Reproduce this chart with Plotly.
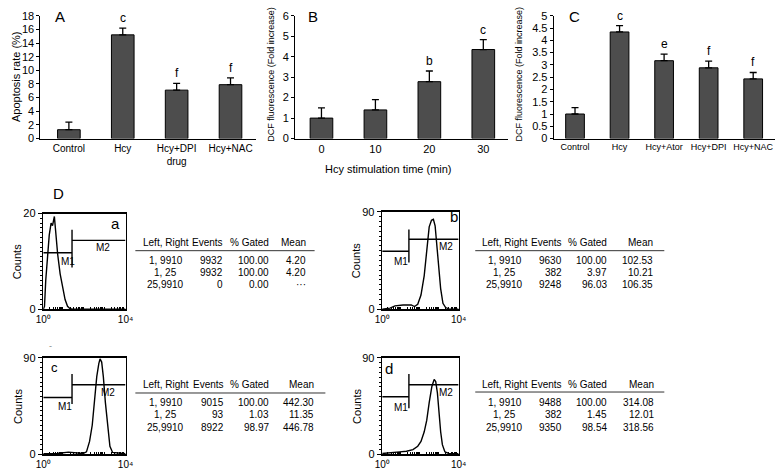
import plotly.graph_objects as go

W, H = 784, 476
def fx(p): return p / W
def fy(p): return 1 - p / H

FONT = "Liberation Sans, Arial, sans-serif"

# ---------------- data: bar panels ----------------
a_cats = ["Control", "Hcy", "Hcy+DPI<br>drug", "Hcy+NAC"]
a_vals = [1.3, 15.2, 7.1, 7.9]
a_err = [1.1, 1.0, 1.0, 1.0]
a_sig = ["", "c", "f", "f"]

b_cats = ["0", "10", "20", "30"]
b_vals = [1.0, 1.4, 2.78, 4.35]
b_err = [0.5, 0.5, 0.52, 0.48]
b_sig = ["", "", "b", "c"]

c_cats = ["Control", "Hcy", "Hcy+Ator", "Hcy+DPI", "Hcy+NAC"]
c_vals = [1.0, 4.34, 3.17, 2.88, 2.43]
c_err = [0.26, 0.26, 0.27, 0.27, 0.26]
c_sig = ["", "c", "e", "f", "f"]

# ---------------- data: flow cytometry histograms (log10 fluorescence, counts) ----------------
ha_log = [0, 0.06, 0.12, 0.19, 0.29, 0.38, 0.45, 0.54, 0.59, 0.70, 0.82, 0.95, 1.06, 1.18, 1.30, 1.43, 2.5, 4.0]
ha_cnt = [0, 0.6, 6, 10, 15.5, 18, 17.5, 19.4, 16.9, 11.5, 7.4, 4.1, 2.0, 0.6, 0.1, 0, 0, 0]

hb_log = [0, 0.41, 0.67, 1.09, 1.52, 1.69, 1.86, 2.03, 2.2, 2.33, 2.46, 2.58, 2.68, 2.77, 2.85, 2.94, 3.06, 3.18, 3.32, 3.49, 4.0]
hb_cnt = [0, 0.9, 3.0, 3.9, 3.9, 2.4, 4.5, 13, 31, 55, 76, 82, 83, 77, 61, 40, 19, 5.4, 1.5, 0.3, 0]

hc_log = [0, 0.67, 1.22, 1.46, 1.94, 2.1, 2.25, 2.38, 2.49, 2.6, 2.7, 2.76, 2.84, 2.92, 3.02, 3.13, 3.24, 3.37, 3.68, 4.0]
hc_cnt = [0.6, 0.9, 2.1, 1.5, 0.9, 2.4, 12.1, 27.2, 51.4, 72.5, 84.6, 89.1, 86.1, 72.5, 48.3, 24.2, 7.6, 1.8, 0.9, 0.6]

hd_log = [0, 0.58, 0.92, 1.27, 1.61, 1.86, 2.03, 2.2, 2.33, 2.46, 2.6, 2.72, 2.8, 2.89, 2.97, 3.06, 3.15, 3.28, 3.49, 4.0]
hd_cnt = [0.9, 1.5, 2.4, 3.0, 4.5, 7.6, 12.1, 21.1, 31.7, 48.3, 63.4, 70, 68, 57.4, 39.3, 21.1, 9.1, 2.4, 0.9, 0.6]

gate_m1 = [1, 25]
gate_m2 = [25, 9910]

# ---------------- data: statistics tables ----------------
tbl_head = ["Left, Right", "Events", "% Gated", "Mean"]
tbl_gates = ["1, 9910", "1, 25", "25,9910"]
ta_events = ["9932", "9932", "0"]
ta_gated = ["100.00", "100.00", "0.00"]
ta_mean = ["4.20", "4.20", "···"]
tb_events = ["9630", "382", "9248"]
tb_gated = ["100.00", "3.97", "96.03"]
tb_mean = ["102.53", "10.21", "106.35"]
tc_events = ["9015", "93", "8922"]
tc_gated = ["100.00", "1.03", "98.97"]
tc_mean = ["442.30", "11.35", "446.78"]
td_events = ["9488", "382", "9350"]
td_gated = ["100.00", "1.45", "98.54"]
td_mean = ["314.08", "12.01", "318.56"]

fig = go.Figure()
annotations = []
shapes = []
layout_axes = {}

def ann(text, x, y, size=11, xanchor="center", yanchor="middle", angle=0, color="black"):
    annotations.append(dict(text=text, x=fx(x), y=fy(y), xref="paper", yref="paper",
                            showarrow=False, xanchor=xanchor, yanchor=yanchor, textangle=angle,
                            font=dict(size=size, family=FONT, color=color)))

# ---------------- bar panels ----------------
bar_panels = [
    dict(i=1, cats=a_cats, vals=a_vals, err=a_err, sig=a_sig, xd=(33, 253), rng=(-0.53, 3.47), ymax=18, dtick=2, fs=10),
    dict(i=2, cats=b_cats, vals=b_vals, err=b_err, sig=b_sig, xd=(293, 510), rng=(-0.49, 3.45), ymax=6, dtick=1, fs=11),
    dict(i=3, cats=c_cats, vals=c_vals, err=c_err, sig=c_sig, xd=(557, 783), rng=(-0.48, 4.49), ymax=5, dtick=0.5, fs=9),
]
for p in bar_panels:
    i = p["i"]
    xa, ya = f"x{i}", f"y{i}"
    fig.add_trace(go.Bar(
        x=p["cats"], y=p["vals"], width=0.42, xaxis=xa, yaxis=ya,
        marker=dict(color="#4d4d4d", line=dict(color="black", width=1)),
        error_y=dict(type="data", symmetric=False, array=p["err"], arrayminus=[0] * len(p["err"]),
                     color="black", thickness=1.3, width=3.5),
        showlegend=False, hoverinfo="skip"))
    layout_axes[f"xaxis{i}"] = dict(domain=[fx(p["xd"][0]), fx(p["xd"][1])], anchor=ya, type="category",
                                   range=list(p["rng"]), showline=True, linecolor="black", linewidth=1,
                                   ticks="", showgrid=False, zeroline=False, tickangle=0,
                                   tickfont=dict(size=p["fs"], family=FONT, color="black"))
    layout_axes[f"yaxis{i}"] = dict(domain=[fy(136), fy(10)], anchor=xa, range=[0, p["ymax"]], dtick=p["dtick"],
                                   showline=True, linecolor="black", linewidth=1, ticks="outside",
                                   ticklen=3, tickwidth=1, tickcolor="black", showgrid=False, zeroline=False,
                                   tickfont=dict(size=11, family=FONT, color="black"))
    for k, (v, e, s) in enumerate(zip(p["vals"], p["err"], p["sig"])):
        if s:
            annotations.append(dict(text=s, x=k, y=v + e, xref=xa, yref=ya, showarrow=False,
                                    yanchor="bottom", yshift=1, font=dict(size=12, family=FONT, color="black")))

ann("A", 53, 11, size=15)
ann("B", 311, 11, size=15)
ann("C", 578, 11, size=15)
ann("Apoptosis rate (%)", 8, 73, size=11, angle=-90)
ann("DCF fluorescence (Fold increase)", 269, 70, size=9, angle=-90)
ann("DCF fluorescence (Fold increase)", 522, 70, size=9, angle=-90)
ann("Hcy stimulation time (min)", 388, 167, size=11)

# ---------------- histogram panels ----------------
minor_vals = [m * 10 ** d for d in range(4) for m in range(2, 10)]
hist_panels = [
    dict(i=4, lg=ha_log, cnt=ha_cnt, xd=(36, 120), yd=(213, 311), ymax=20, m1=11.8, m2=14.4, v=(8.7, 16.6),
         lab="a", labpos=(110, 223), labsize=15, m1pos=(61, 262), m2pos=(97, 248)),
    dict(i=5, lg=hb_log, cnt=hb_cnt, xd=(382, 460), yd=(211, 311), ymax=90, m1=53.4, m2=64.5, v=(43, 73.5),
         lab="b", labpos=(455, 216), labsize=15, m1pos=(401, 262), m2pos=(447, 247)),
    dict(i=6, lg=hc_log, cnt=hc_cnt, xd=(36, 120), yd=(361, 460), ymax=90, m1=53, m2=65, v=(47, 75),
         lab="c", labpos=(47, 371), labsize=13, m1pos=(58, 411), m2pos=(102, 397)),
    dict(i=7, lg=hd_log, cnt=hd_cnt, xd=(382, 460), yd=(361, 460), ymax=90, m1=53.8, m2=65, v=(43, 75),
         lab="d", labpos=(389, 372), labsize=15, m1pos=(401, 412), m2pos=(447, 397)),
]
for p in hist_panels:
    i = p["i"]
    xa, ya = f"x{i}", f"y{i}"
    fig.add_trace(go.Scatter(x=[10 ** v for v in p["lg"]], y=p["cnt"], mode="lines", xaxis=xa, yaxis=ya,
                             line=dict(color="black", width=1.4), showlegend=False, hoverinfo="skip"))
    for gx, gy in ((gate_m1, [p["m1"], p["m1"]]), (gate_m2, [p["m2"], p["m2"]]),
                   ([gate_m1[1], gate_m1[1]], list(p["v"]))):
        fig.add_trace(go.Scatter(x=gx, y=gy, mode="lines", xaxis=xa, yaxis=ya,
                                 line=dict(color="black", width=1.4), showlegend=False, hoverinfo="skip"))
    layout_axes[f"xaxis{i}"] = dict(domain=[fx(p["xd"][0]), fx(p["xd"][1])], anchor=ya, type="log", range=[0, 4],
                                   showline=True, mirror=True, linecolor="black", linewidth=1.5,
                                   tickvals=[1, 10000], ticktext=["10⁰", "10⁴"],
                                   ticks="inside", ticklen=4, tickcolor="black", showgrid=False, zeroline=False,
                                   minor=dict(tickvals=minor_vals, ticks="inside", ticklen=2, tickcolor="black",
                                              showgrid=False),
                                   tickfont=dict(size=10, family=FONT, color="black"))
    layout_axes[f"yaxis{i}"] = dict(domain=[fy(p["yd"][1]), fy(p["yd"][0])], anchor=xa, range=[0, p["ymax"]],
                                   tickvals=[0, p["ymax"]], showline=True, mirror=True, linecolor="black",
                                   linewidth=1.5, ticks="outside", ticklen=4, tickcolor="black",
                                   showgrid=False, zeroline=False,
                                   minor=dict(tickmode="linear", tick0=0, dtick=p["ymax"] / 20, ticks="outside",
                                              ticklen=2, tickcolor="black", showgrid=False),
                                   tickfont=dict(size=11, family=FONT, color="black"))
    ann(p["lab"], p["labpos"][0], p["labpos"][1], size=p["labsize"])
    ann("M1", p["m1pos"][0], p["m1pos"][1], size=10)
    ann("M2", p["m2pos"][0], p["m2pos"][1], size=10)
    cy = (p["yd"][0] + p["yd"][1]) / 2
    ann("Counts", p["xd"][0] - 26, cy, size=11, angle=-90)

ann("D", 52, 192, size=15)
ann("-", 43, 349, size=9, color="#888888")

# ---------------- tables ----------------
tables = [
    dict(ev=ta_events, gt=ta_gated, mn=ta_mean, line=(130, 313), yh=243, yl=251, rows=(261, 273.5, 286),
         c1=161, cr=(222, 268, 306)),
    dict(ev=tb_events, gt=tb_gated, mn=tb_mean, line=(477, 670), yh=243, yl=251, rows=(261, 273.5, 286),
         c1=507, cr=(568, 614, 660)),
    dict(ev=tc_events, gt=tc_gated, mn=tc_mean, line=(130, 324), yh=388, yl=397, rows=(407, 419.5, 432),
         c1=161, cr=(223, 268, 314)),
    dict(ev=td_events, gt=td_gated, mn=td_mean, line=(477, 670), yh=388, yl=396, rows=(407, 419.5, 432),
         c1=507, cr=(568, 614, 661)),
]
for t in tables:
    ann(tbl_head[0], t["c1"], t["yh"], size=10)
    for h, xr in zip(tbl_head[1:], t["cr"]):
        ann(h, xr, t["yh"], size=10, xanchor="right")
    shapes.append(dict(type="line", xref="paper", yref="paper", x0=fx(t["line"][0]), x1=fx(t["line"][1]),
                       y0=fy(t["yl"]), y1=fy(t["yl"]), line=dict(color="#333333", width=1)))
    for r, yy in enumerate(t["rows"]):
        ann(tbl_gates[r], t["c1"], yy, size=10)
        for col, xr in zip((t["ev"], t["gt"], t["mn"]), t["cr"]):
            ann(col[r], xr, yy, size=10, xanchor="right")

fig.update_layout(width=W, height=H, margin=dict(l=0, r=0, t=0, b=0),
                  paper_bgcolor="white", plot_bgcolor="white", showlegend=False,
                  annotations=annotations, shapes=shapes, bargap=0.5,
                  font=dict(family=FONT, size=11, color="black"), **layout_axes)
fig.write_html("out.html", config={"displayModeBar": False, "staticPlot": True},
               post_script="document.body.style.margin='0';document.body.style.padding='0';"
                           "document.documentElement.style.overflow='hidden';")
